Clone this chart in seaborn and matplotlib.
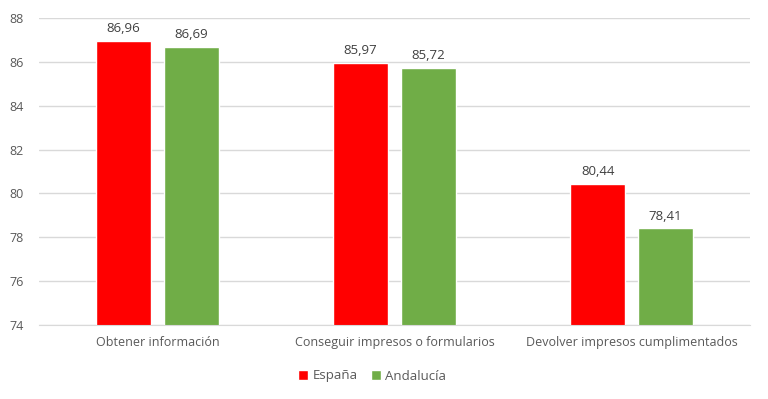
import matplotlib
matplotlib.use("Agg")
import matplotlib.pyplot as plt
import seaborn as sns
import pandas as pd

categories = ["Obtener información", "Conseguir impresos o formularios", "Devolver impresos cumplimentados"]
series_names = ["España", "Andalucía"]
espana = [86.96, 85.97, 80.44]
andalucia = [86.69, 85.72, 78.41]
colors = ["#FF0000", "#70AD47"]
yticks = [74, 76, 78, 80, 82, 84, 86, 88]

rows = []
for c, e, a in zip(categories, espana, andalucia):
    rows.append({"cat": c, "serie": series_names[0], "val": e})
    rows.append({"cat": c, "serie": series_names[1], "val": a})
df = pd.DataFrame(rows)

sns.set_style("white")
plt.rcParams["font.family"] = ["Open Sans", "DejaVu Sans"]
txt = "#595959"

fig = plt.figure(figsize=(7.68, 3.99), dpi=100)
ax = fig.add_axes([39/768, 1-325/399, (750-39)/768, (325-18)/399])
sns.barplot(data=df, x="cat", y="val", hue="serie", palette=colors,
            width=0.57, gap=0.18, ax=ax, saturation=1, legend=True)
ax.set_ylim(74, 88)
ax.set_xlim(-0.5, 2.5)
ax.set_yticks(yticks)
ax.set_yticklabels([str(t) for t in yticks], fontsize=9, color=txt)
ax.tick_params(axis="x", labelsize=9, colors=txt, length=0, pad=8)
ax.tick_params(axis="y", length=0, pad=11)
ax.set_xlabel("")
ax.set_ylabel("")
ax.grid(axis="y", color="#D9D9D9", linewidth=1)
ax.set_axisbelow(True)
for s in ["top", "right", "left"]:
    ax.spines[s].set_visible(False)
ax.spines["bottom"].set_color("#D9D9D9")

for cont in ax.containers:
    labels = [f"{v:.2f}".replace(".", ",") for v in cont.datavalues]
    ax.bar_label(cont, labels=labels, padding=4, fontsize=9.5, color="#404040")

handles, labs = ax.get_legend_handles_labels()
ax.legend(handles, labs, loc="center", bbox_to_anchor=(372/768, 1-376/399),
          bbox_transform=fig.transFigure, ncol=2, frameon=False, fontsize=9.5,
          handlelength=0.75, handleheight=0.75, handletextpad=0.3, columnspacing=1.0,
          labelcolor=txt)

fig.savefig("out.png", dpi=100)
